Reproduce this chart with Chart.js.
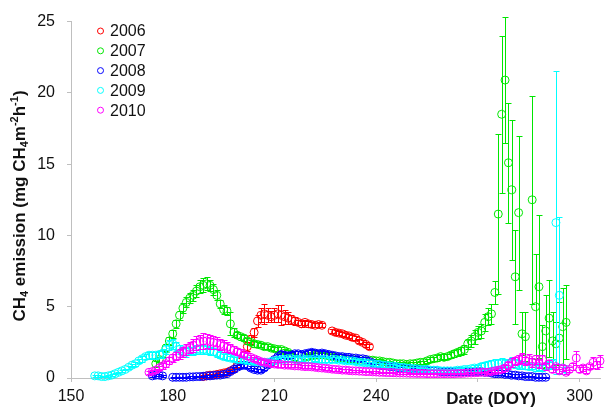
<!DOCTYPE html>
<html>
<head>
<meta charset="utf-8">
<script src="https://cdn.jsdelivr.net/npm/chart.js@4.4.1/dist/chart.umd.min.js"></script>
<style>
  html, body { margin: 0; padding: 0; background: #fff; }
  #wrap { width: 605px; height: 408px; }
</style>
</head>
<body>
<div id="wrap"><canvas id="chart"></canvas></div>
<script>
// one value per day starting at startXXXX (DOY), null = no measurement
const start2006 = 189;
const ch4_2006 = [0.1,0.15,0.2,0.2,0.25,0.3,0.35,0.4,0.5,0.6,
  0.9,1.2,1.6,2.2,2.7,3.2,4.0,4.4,4.5,4.4,
  4.3,4.4,4.5,4.4,4.3,4.2,4.1,4.0,3.9,3.8,
  3.9,3.8,3.75,3.7,3.75,3.7,null,null,3.3,3.2,
  3.15,3.1,3.0,2.95,2.85,2.8,2.6,2.5,2.35,2.2];
const err2006 = [0.1,0.1,0.1,0.1,0.1,0.1,0.1,0.1,0.1,0.1,
  0.15,0.2,0.2,0.3,0.3,0.3,0.4,0.5,0.7,0.5,
  0.4,0.5,0.6,0.7,0.5,0.4,0.3,0.3,0.2,0.2,
  0.2,0.2,0.15,0.15,0.15,0.15,null,null,0.15,0.15,
  0.15,0.15,0.15,0.15,0.15,0.15,0.15,0.15,0.15,0.15];

const start2007 = 175;
const ch4_2007 = [1.0,1.3,1.7,2.1,2.6,3.1,3.8,4.4,4.9,5.3,
  5.6,5.8,6.1,6.4,6.5,6.6,6.5,6.2,5.8,5.2,
  4.8,4.7,3.8,3.2,3.0,2.9,2.8,2.6,2.5,2.4,
  2.35,2.3,2.2,2.2,2.1,2.05,2.0,2.0,1.9,1.8,
  1.6,1.4,1.3,1.35,1.45,1.5,1.55,1.6,1.6,1.65,
  1.6,1.55,1.5,1.45,1.4,1.4,1.35,1.3,1.3,1.25,
  1.2,1.2,1.2,1.25,1.25,1.2,1.2,1.15,1.1,1.1,
  1.05,1.0,1.0,1.0,0.95,1.0,1.0,1.05,1.1,1.1,
  1.2,1.3,1.35,1.4,1.5,1.45,1.5,1.6,1.7,1.8,
  1.9,2.0,2.4,2.6,2.9,3.2,3.3,3.9,4.3,4.5,
  6.0,11.5,18.5,20.9,15.1,13.2,7.1,11.6,3.1,2.9,
  null,12.5,5.0,6.4,2.2,3.3,4.2,2.6,2.4,2.8,
  3.6,3.9];
const err2007 = [0.2,0.2,0.2,0.25,0.3,0.3,0.3,0.3,0.35,0.35,
  0.35,0.4,0.4,0.45,0.5,0.45,0.4,0.4,0.35,0.3,
  0.3,0.3,0.8,0.3,0.2,0.2,0.2,0.2,0.2,0.2,
  0.15,0.15,0.15,0.15,0.15,0.15,0.15,0.15,0.15,0.15,
  0.15,0.15,0.15,0.15,0.15,0.15,0.15,0.15,0.15,0.15,
  0.15,0.15,0.15,0.15,0.15,0.15,0.15,0.15,0.15,0.15,
  0.1,0.1,0.1,0.1,0.1,0.1,0.1,0.1,0.1,0.1,
  0.1,0.1,0.1,0.1,0.1,0.1,0.1,0.1,0.1,0.1,
  0.15,0.15,0.15,0.2,0.2,0.2,0.2,0.2,0.25,0.25,
  0.3,0.3,0.35,0.4,0.5,0.45,0.5,0.6,0.6,0.7,
  0.8,5.6,5.5,4.4,4.2,4.9,3.3,5.4,1.5,1.7,
  null,7.3,3.7,5.0,1.5,2.5,2.7,2.0,1.5,2.5,
  2.7,2.6];

const start2008 = 174;
const ch4_2008 = [0.15,0.2,0.2,0.15,null,null,0.05,0.05,0.05,0.05,
  0.05,0.08,0.08,0.1,0.1,0.12,0.15,0.15,0.18,0.2,
  0.2,0.25,0.3,0.45,0.6,0.75,0.85,0.9,0.85,0.7,
  0.6,0.55,0.55,0.7,0.9,1.1,1.3,1.5,1.65,1.6,
  1.55,1.6,1.7,1.7,1.65,1.7,1.75,1.8,1.75,1.7,
  1.75,1.7,1.65,1.6,1.55,1.5,1.5,1.45,1.45,1.4,
  1.4,1.35,1.35,1.3,1.15,1.05,0.95,0.9,0.85,0.85,
  0.8,0.8,0.75,0.7,0.7,0.65,0.65,0.6,0.6,0.55,
  0.55,0.55,0.5,0.5,0.5,0.45,0.45,0.45,0.45,0.45,
  0.45,0.45,0.45,0.45,0.45,0.45,0.45,0.45,0.4,0.4,
  0.35,0.3,0.3,0.3,0.25,0.25,0.2,0.2,0.15,0.15,
  0.1,0.1,0.1,0.05,0.05,0.05,0.05];
const err2008 = [0.05,0.05,0.05,0.05,null,null,0.05,0.05,0.05,0.05,
  0.05,0.05,0.05,0.05,0.05,0.05,0.05,0.05,0.05,0.05,
  0.05,0.05,0.1,0.1,0.15,0.15,0.15,0.15,0.15,0.15,
  0.1,0.1,0.1,0.15,0.15,0.2,0.2,0.2,0.25,0.2,
  0.2,0.2,0.2,0.2,0.2,0.2,0.2,0.2,0.2,0.2,
  0.2,0.2,0.2,0.2,0.15,0.15,0.15,0.15,0.15,0.15,
  0.15,0.15,0.15,0.15,0.1,0.1,0.1,0.1,0.1,0.1,
  0.1,0.1,0.1,0.1,0.1,0.1,0.1,0.1,0.1,0.1,
  0.1,0.1,0.1,0.1,0.1,0.1,0.1,0.1,0.1,0.1,
  0.1,0.1,0.1,0.1,0.1,0.1,0.1,0.1,0.1,0.1,
  0.1,0.1,0.1,0.1,0.1,0.1,0.1,0.1,0.1,0.1,
  0.05,0.05,0.05,0.05,0.05,0.05,0.05];

const start2009 = 157;
const ch4_2009 = [0.15,0.15,0.1,0.1,0.15,0.2,0.3,0.4,0.5,0.6,
  0.75,0.9,1.0,1.2,1.35,1.5,1.6,1.6,1.6,1.65,
  1.7,2.0,2.3,2.4,2.2,2.0,1.8,1.8,1.9,1.9,
  2.0,2.0,2.0,1.95,1.9,1.85,1.75,1.6,1.5,1.45,
  1.4,1.35,1.3,1.3,1.25,1.2,1.2,1.15,1.15,1.1,
  1.1,1.1,1.15,1.2,1.25,1.3,1.3,1.35,1.35,1.3,
  1.3,1.35,1.3,1.3,1.3,1.35,1.3,1.3,1.3,1.25,
  1.3,1.3,1.25,1.25,1.2,1.2,1.2,1.15,1.1,1.1,
  1.05,1.0,1.0,0.95,0.95,0.9,0.9,0.85,0.85,0.8,
  0.75,0.75,0.7,0.7,0.65,0.65,0.6,0.6,0.6,0.55,
  0.55,0.55,0.5,0.5,0.5,0.5,0.5,0.55,0.55,0.6,
  0.6,0.65,0.7,0.7,0.8,0.85,0.9,0.95,1.0,1.0,
  1.05,1.0,1.0,1.1,1.0,0.95,0.9,0.85,0.8,0.8,
  0.7,0.75,0.7,0.8,0.9,1.0,10.9,5.8,0.7,0.6];
const err2009 = [0.05,0.05,0.05,0.05,0.05,0.05,0.05,0.05,0.05,0.05,
  0.1,0.1,0.15,0.15,0.2,0.2,0.25,0.25,0.25,0.25,
  0.3,0.3,0.35,0.35,0.3,0.3,0.3,0.3,0.3,0.3,
  0.3,0.3,0.3,0.3,0.3,0.25,0.25,0.2,0.2,0.2,
  0.15,0.15,0.15,0.15,0.15,0.15,0.15,0.15,0.15,0.15,
  0.15,0.15,0.15,0.15,0.15,0.15,0.15,0.15,0.15,0.15,
  0.15,0.15,0.15,0.15,0.15,0.15,0.15,0.15,0.15,0.15,
  0.15,0.15,0.15,0.15,0.15,0.15,0.15,0.15,0.15,0.15,
  0.1,0.1,0.1,0.1,0.1,0.1,0.1,0.1,0.1,0.1,
  0.1,0.1,0.1,0.1,0.1,0.1,0.1,0.1,0.1,0.1,
  0.1,0.1,0.1,0.1,0.1,0.1,0.1,0.15,0.15,0.15,
  0.15,0.15,0.2,0.2,0.25,0.3,0.3,0.3,0.35,0.35,
  0.35,0.3,0.3,0.35,0.3,0.3,0.25,0.25,0.2,0.2,
  0.2,0.2,0.2,0.2,0.25,0.3,10.6,5.5,0.2,0.2];

const start2010 = 173;
const ch4_2010 = [0.4,0.45,0.55,0.7,0.85,1.0,1.2,1.4,1.55,1.7,
  1.85,2.0,2.15,2.3,2.45,2.55,2.6,2.6,2.55,2.5,
  2.45,2.35,2.25,2.15,2.05,1.95,1.85,1.75,1.65,1.55,
  1.45,1.35,1.25,1.15,1.1,1.05,1.0,0.98,0.95,0.95,
  0.9,0.9,0.88,0.85,0.85,0.82,0.8,0.8,0.78,0.75,
  0.72,0.7,0.68,0.65,0.62,0.6,0.58,0.55,0.55,0.52,
  0.5,0.5,0.48,0.47,0.45,0.45,0.43,0.42,0.4,0.4,
  0.38,0.38,0.37,0.36,0.35,0.35,0.34,0.33,0.33,0.32,
  0.32,0.32,0.3,0.3,0.3,0.3,0.3,0.3,0.3,0.3,
  0.3,0.32,0.32,0.33,0.35,0.35,0.37,0.38,0.4,0.4,
  0.4,0.45,0.5,0.55,0.6,0.7,0.9,1.1,1.2,1.3,
  1.4,1.2,1.3,1.1,1.3,1.0,1.3,0.8,1.0,0.6,
  0.8,0.5,0.7,0.4,0.6,0.8,1.4,0.6,0.7,0.5,
  0.8,1.1,0.9,1.2];
const err2010 = [0.1,0.1,0.1,0.15,0.2,0.2,0.25,0.3,0.3,0.35,
  0.35,0.4,0.4,0.45,0.5,0.5,0.55,0.5,0.5,0.45,
  0.45,0.4,0.4,0.35,0.3,0.3,0.25,0.25,0.2,0.2,
  0.15,0.15,0.15,0.15,0.15,0.15,0.15,0.15,0.15,0.15,
  0.1,0.1,0.1,0.1,0.1,0.1,0.1,0.1,0.1,0.1,
  0.1,0.1,0.1,0.1,0.1,0.1,0.1,0.1,0.1,0.1,
  0.05,0.05,0.05,0.05,0.05,0.05,0.05,0.05,0.05,0.05,
  0.05,0.05,0.05,0.05,0.05,0.05,0.05,0.05,0.05,0.05,
  0.05,0.05,0.05,0.05,0.05,0.05,0.05,0.05,0.05,0.05,
  0.05,0.05,0.05,0.05,0.05,0.05,0.05,0.05,0.05,0.05,
  0.1,0.1,0.1,0.15,0.15,0.2,0.25,0.3,0.3,0.3,
  0.35,0.3,0.35,0.3,0.3,0.3,0.3,0.25,0.25,0.2,
  0.2,0.15,0.2,0.15,0.2,0.25,0.5,0.2,0.2,0.15,
  0.2,0.4,0.3,0.4];

const years = ['2006', '2007', '2008', '2009', '2010'];
const colors = ['#ff0000', '#00e600', '#0000ff', '#00ffff', '#ff00ff'];
const xTicks = [150, 180, 210, 240, 270, 300];
const yTicks = [0, 5, 10, 15, 20, 25];

const FONT = '"Liberation Sans", Arial, sans-serif';
const AXIS = '#bfbfbf';
const TEXT = '#111';

const series = [
  [start2006, ch4_2006, err2006],
  [start2007, ch4_2007, err2007],
  [start2008, ch4_2008, err2008],
  [start2009, ch4_2009, err2009],
  [start2010, ch4_2010, err2010]
];

function toPoints(start, vals, errs) {
  const pts = [];
  vals.forEach((v, i) => {
    if (v === null) return;
    pts.push({ x: start + i, y: v, err: errs[i] });
  });
  return pts;
}

// error bars, drawn just before each dataset so they layer with it
const errorBars = {
  id: 'errorBars',
  beforeDatasetDraw(chart, args) {
    const ds = chart.data.datasets[args.index];
    const xs = chart.scales.x, ys = chart.scales.y;
    const ctx = chart.ctx;
    ctx.save();
    ctx.strokeStyle = ds.borderColor;
    ctx.lineWidth = 1;
    ctx.beginPath();
    ds.data.forEach(p => {
      if (!p.err) return;
      const px = Math.round(xs.getPixelForValue(p.x)) + 0.5;
      const top = Math.round(ys.getPixelForValue(p.y + p.err)) + 0.5;
      const bot = Math.round(ys.getPixelForValue(Math.max(0, p.y - p.err))) + 0.5;
      ctx.moveTo(px, top); ctx.lineTo(px, bot);
      ctx.moveTo(px - 3, top); ctx.lineTo(px + 3, top);
      ctx.moveTo(px - 3, bot); ctx.lineTo(px + 3, bot);
    });
    ctx.stroke();
    ctx.restore();
  }
};

// legend inside the plot, axis titles with sub/superscripts
const labels = {
  id: 'labels',
  afterDraw(chart) {
    const ctx = chart.ctx;
    ctx.save();

    ctx.font = '16px ' + FONT;
    ctx.textBaseline = 'middle';
    years.forEach((yr, i) => {
      const cy = 31 + i * 19.8;
      ctx.beginPath();
      ctx.arc(100.5, cy, 3, 0, Math.PI * 2);
      ctx.strokeStyle = colors[i];
      ctx.lineWidth = 1;
      ctx.stroke();
      ctx.fillStyle = TEXT;
      ctx.fillText(yr, 110, cy + 1);
    });

    // x title sits where the 270 label would be
    ctx.font = 'bold 17px ' + FONT;
    ctx.textBaseline = 'alphabetic';
    ctx.textAlign = 'center';
    ctx.fillText('Date (DOY)', 491, 404);

    // y title
    const parts = [
      ['CH', 0], ['4', 1], [' emission (mg CH', 0], ['4', 1],
      ['m', 0], ['-2', 2], ['h', 0], ['-1', 2], [')', 0]
    ];
    const big = 'bold 17px ' + FONT, small = 'bold 11px ' + FONT;
    let total = 0;
    parts.forEach(([t, k]) => { ctx.font = k ? small : big; total += ctx.measureText(t).width; });
    ctx.translate(25, 206);
    ctx.rotate(-Math.PI / 2);
    ctx.textAlign = 'left';
    let x = -total / 2;
    parts.forEach(([t, k]) => {
      ctx.font = k ? small : big;
      const dy = k === 1 ? 3 : (k === 2 ? -7 : 0);
      ctx.fillText(t, x, dy);
      x += ctx.measureText(t).width;
    });
    ctx.restore();
  }
};

new Chart(document.getElementById('chart'), {
  type: 'scatter',
  data: {
    datasets: series.map((s, i) => ({
      label: years[i],
      data: toPoints(s[0], s[1], s[2]),
      borderColor: colors[i],
      backgroundColor: 'rgba(0,0,0,0)',
      pointRadius: 4,
      pointHoverRadius: 4,
      pointBorderWidth: 1,
      order: 5 - i,
      clip: false
    }))
  },
  options: {
    responsive: true,
    maintainAspectRatio: false,
    animation: false,
    events: [],
    layout: { padding: { top: 18, right: 0, bottom: 0, left: 0 } },
    plugins: { legend: { display: false }, tooltip: { enabled: false } },
    scales: {
      x: {
        type: 'linear',
        min: 150,
        max: 306,
        afterBuildTicks: ax => { ax.ticks = xTicks.map(v => ({ value: v })); },
        afterFit: ax => { ax.height = 30; },
        border: { color: AXIS },
        grid: { drawOnChartArea: false, tickLength: 4, color: AXIS },
        ticks: {
          autoSkip: false, maxRotation: 0, padding: 5, color: TEXT,
          font: { family: FONT, size: 16 },
          callback: v => (v === 270 ? '' : v)
        }
      },
      y: {
        min: 0,
        max: 25,
        afterBuildTicks: ax => { ax.ticks = yTicks.map(v => ({ value: v })); },
        afterFit: ax => { ax.width = 71; },
        border: { color: AXIS },
        grid: { drawOnChartArea: false, tickLength: 4, color: AXIS },
        ticks: { padding: 12, color: TEXT, font: { family: FONT, size: 16 } }
      }
    }
  },
  plugins: [errorBars, labels]
});
</script>
</body>
</html>
